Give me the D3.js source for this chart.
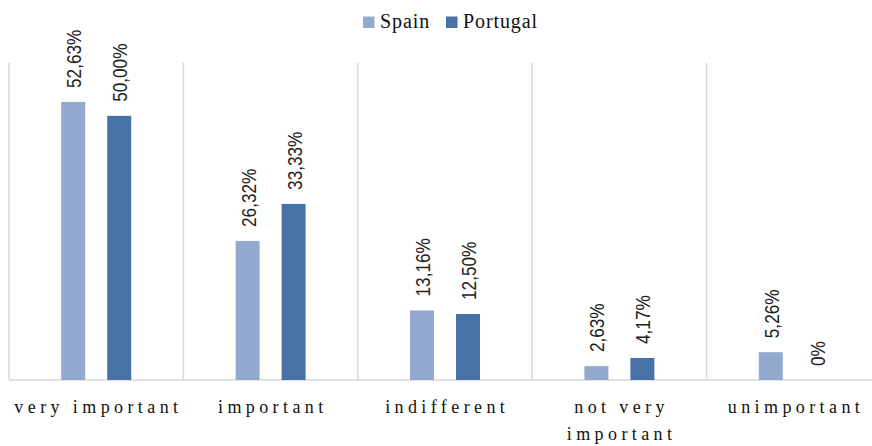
<!DOCTYPE html>
<html><head><meta charset="utf-8">
<script src="https://cdn.jsdelivr.net/npm/d3@7"></script>
<style>body{margin:0;background:#fff}</style>
</head><body>
<svg id="c" width="872" height="446"></svg>
<script>
const categories = [["very important"],["important"],["indifferent"],["not very","important"],["unimportant"]];
const seriesNames = ["Spain","Portugal"];
const spain = [52.63, 26.32, 13.16, 2.63, 5.26];
const portugal = [50.00, 33.33, 12.50, 4.17, 0];
const spainLabels = ["52,63%","26,32%","13,16%","2,63%","5,26%"];
const portugalLabels = ["50,00%","33,33%","12,50%","4,17%","0%"];
const colors = ["#94a9d0","#4672a8"];

const svg = d3.select("#c");
const left = 9, step = 174.4;
const x = d3.scaleBand().domain(d3.range(categories.length)).range([left, left + step*categories.length]).paddingInner(0).paddingOuter(0);
const y = d3.scaleLinear().domain([0,60]).range([380,63]);
const barW = 24, off = 23;

// gridlines
const g = svg.append("g");
d3.range(categories.length+1).forEach(i=>{
  const xx = left + i*step;
  g.append("line").attr("x1",xx).attr("x2",xx).attr("y1",y(60)).attr("y2",y(0)).attr("stroke","#d9d9d9").attr("stroke-width",1.5);
});
g.append("line").attr("x1",left).attr("x2",872).attr("y1",y(0)).attr("y2",y(0)).attr("stroke","#d9d9d9").attr("stroke-width",1.5);

const data = [spain, portugal];
const labs = [spainLabels, portugalLabels];
data.forEach((vals, s)=>{
  vals.forEach((v,i)=>{
    const cx = x(i) + x.bandwidth()/2 + (s===0?-off:off);
    if (v>0) svg.append("rect").attr("x",cx-barW/2).attr("y",y(v)).attr("width",barW).attr("height",y(0)-y(v)).attr("fill",colors[s]);
    svg.append("text").attr("transform",`translate(${cx+1},${y(v)-14}) rotate(-90) scale(0.86,1)`)
      .attr("dominant-baseline","central").attr("text-anchor","start")
      .attr("font-family","'Liberation Sans','Arial',sans-serif").attr("font-size",20).attr("fill","#222")
      .text(labs[s][i]);
  });
});

// category labels
const ls = 4.4;
categories.forEach((lines,i)=>{
  const t = svg.append("text").attr("text-anchor","middle")
    .attr("font-family","'Liberation Serif','Times New Roman',serif").attr("font-size",18)
    .attr("letter-spacing",ls+"px").attr("fill","#111");
  lines.forEach((ln,j)=>{
    t.append("tspan").attr("x", x(i)+x.bandwidth()/2+ls/2).attr("y", 413 + j*27).text(ln);
  });
});

// legend
const leg = svg.append("g").attr("font-family","'Liberation Serif','Times New Roman',serif").attr("font-size",20).attr("letter-spacing","0.9px").attr("fill","#111");
const legX = [363, 446];
seriesNames.forEach((n,s)=>{
  leg.append("rect").attr("x",legX[s]).attr("y",16.5).attr("width",11.5).attr("height",11.5).attr("fill",colors[s]);
  leg.append("text").attr("x",legX[s]+17).attr("y",28).text(n);
});
</script>
</body></html>
